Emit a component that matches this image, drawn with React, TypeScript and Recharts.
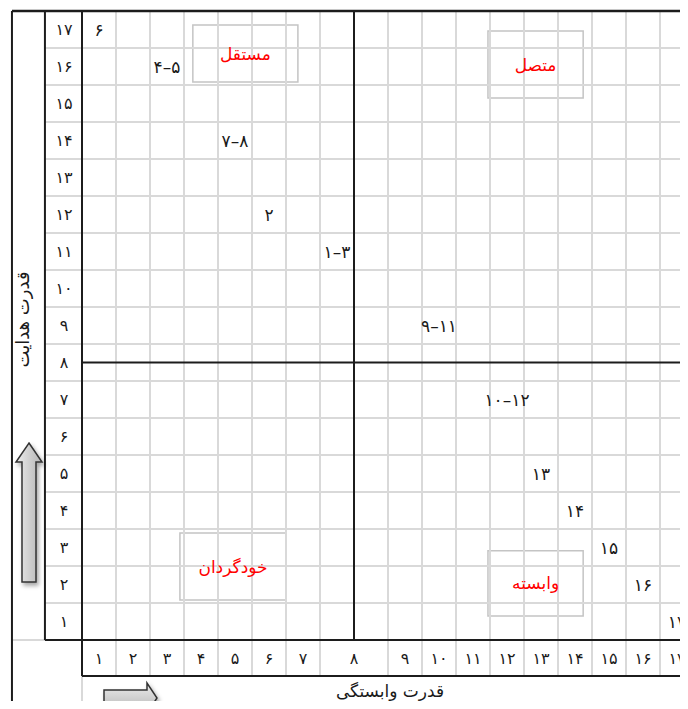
import React from 'react';
import { ScatterChart, Scatter, XAxis, YAxis, ReferenceLine, ReferenceArea } from 'recharts';

// گروه متغیرها و جایگاه آنها در ماتریس میک‌مک
const groups = ['6', '4-5', '7-8', '2', '1-3', '9-11', '10-12', '13', '14', '15', '16', '17'];
const dependence = [1, 3, 5, 6, 8, 10, 12, 13, 14, 15, 16, 17];
const driving = [17, 16, 14, 12, 11, 9, 7, 5, 4, 3, 2, 1];

// برچسب سطرها و ستون‌ها
const levels = [1, 2, 3, 4, 5, 6, 7, 8, 9, 10, 11, 12, 13, 14, 15, 16, 17];

const xTitle = 'قدرت وابستگی';
const yTitle = 'قدرت هدایت';
const quadrantNames = ['مستقل', 'متصل', 'خودگردان', 'وابسته'];

// layout of the quadrant boxes (axis units)
const quadrantBoxes = [
  { x1: 3.26, x2: 6.35, y1: 15.58, y2: 17.12 },
  { x1: 11.94, x2: 14.74, y1: 15.15, y2: 16.96 },
  { x1: 2.88, x2: 6.0, y1: 1.58, y2: 3.39 },
  { x1: 11.94, x2: 14.74, y1: 1.15, y2: 2.91 },
];

const FA_FONT = "'DejaVu Sans', sans-serif";
const GRID = '#d9d9d9';
const INK = '#1c1c1c';
const TEXT = '#1a1a1a';

const toFa = (s: string | number) =>
  String(s)
    .replace(/[0-9]/g, (d) => '۰۱۲۳۴۵۶۷۸۹'[Number(d)])
    .replace('-', '–');

// column 8 is twice as wide as the others (the quadrant divider runs through it)
const colCenter = (v: number) => (v < 8 ? v - 0.5 : v === 8 ? 8 : v + 0.5);
const pointX = (v: number) => (v === 8 ? 7.5 : colCenter(v));

const xTicks = levels.map(colCenter);
const colEdges = levels.map((v) => (v < 8 ? v : v + 1));
const rowEdges = levels.slice(0, -1).map((v) => v + 0.5);

const points = groups.map((g, i) => ({
  x: pointX(dependence[i]),
  y: driving[i],
  label: toFa(g),
}));

// frame positions in axis units
const X_OUTER = -2.06;
const X_ROWCOL = -1.09;
const X_FAR = 18.8;
const Y_TOP = 17.5;
const Y_PLOT = 0.5;
const Y_BAND = -0.47;
const Y_FAR = -1.6;

const LabelShape = (props: any) => (
  <text
    x={props.cx}
    y={props.cy}
    textAnchor="middle"
    dominantBaseline="central"
    fontSize={17}
    fontFamily={FA_FONT}
    fill={TEXT}
  >
    {props.payload.label}
  </text>
);

const XTick = (props: any) => {
  const idx = xTicks.indexOf(props.payload.value);
  return (
    <text
      x={props.x}
      y={props.y + 18}
      textAnchor="middle"
      dominantBaseline="central"
      fontSize={16}
      fontFamily={FA_FONT}
      fill={TEXT}
    >
      {toFa(levels[idx])}
    </text>
  );
};

const YTick = (props: any) => (
  <text
    x={props.x - 18}
    y={props.y}
    textAnchor="middle"
    dominantBaseline="central"
    fontSize={16}
    fontFamily={FA_FONT}
    fill={TEXT}
  >
    {toFa(props.payload.value)}
  </text>
);

const XTitle = (props: any) => {
  const vb = props.viewBox;
  return (
    <text
      x={vb.x + vb.width / 2 + 2}
      y={vb.y + vb.height + 15}
      textAnchor="middle"
      dominantBaseline="central"
      fontSize={17}
      fontFamily={FA_FONT}
      fill={TEXT}
    >
      {xTitle}
    </text>
  );
};

const YTitle = (props: any) => {
  const vb = props.viewBox;
  const x = vb.x - 24;
  const y = vb.y + vb.height / 2 - 6;
  return (
    <text
      x={x}
      y={y}
      transform={`rotate(-90, ${x}, ${y})`}
      textAnchor="middle"
      dominantBaseline="central"
      fontSize={18}
      fontFamily={FA_FONT}
      fill={TEXT}
    >
      {yTitle}
    </text>
  );
};

const seg = (x1: number, y1: number, x2: number, y2: number, color: string, w: number, key: string) => (
  <ReferenceLine
    key={key}
    segment={[
      { x: x1, y: y1 },
      { x: x2, y: y2 },
    ]}
    stroke={color}
    strokeWidth={w}
    ifOverflow="visible"
  />
);

export default function App() {
  return (
    <div style={{ position: 'relative', width: 680, height: 701, overflow: 'hidden', marginBottom: -8 }}>
      <ScatterChart width={691} height={701} margin={{ top: 3, right: 5, bottom: 33, left: 38 }}>
        <XAxis
          type="number"
          dataKey="x"
          domain={[0, 18]}
          ticks={xTicks}
          interval={0}
          allowDataOverflow
          axisLine={false}
          tickLine={false}
          tickSize={0}
          tickMargin={0}
          height={36}
          tick={XTick}
          label={XTitle}
        />
        <YAxis
          type="number"
          dataKey="y"
          domain={[0.5, 17.5]}
          ticks={levels}
          interval={0}
          allowDataOverflow
          axisLine={false}
          tickLine={false}
          tickSize={0}
          tickMargin={0}
          width={36}
          tick={YTick}
          label={YTitle}
        />

        {colEdges.map((b) => seg(b, Y_TOP, b, Y_BAND, GRID, 2, `c${b}`))}
        {rowEdges.map((r) => seg(X_ROWCOL, r, X_FAR, r, GRID, 2, `r${r}`))}

        {seg(X_OUTER, Y_PLOT, X_ROWCOL, Y_PLOT, GRID, 2, 'g1')}
        {seg(0, Y_BAND, 0, Y_FAR, GRID, 2, 'g2')}

        {seg(X_OUTER, Y_FAR, X_OUTER, Y_TOP, INK, 2, 'f1')}
        {seg(X_OUTER, Y_TOP, X_FAR, Y_TOP, INK, 2.5, 'f2')}
        {seg(X_ROWCOL, Y_TOP, X_ROWCOL, Y_PLOT, INK, 2, 'f3')}
        {seg(0, Y_TOP, 0, Y_BAND, INK, 2, 'f4')}
        {seg(X_ROWCOL, Y_PLOT, X_FAR, Y_PLOT, INK, 2, 'f5')}
        {seg(0, Y_BAND, X_FAR, Y_BAND, INK, 2, 'f6')}
        {seg(8, Y_TOP, 8, Y_PLOT, INK, 2, 'q1')}
        {seg(0, 8, X_FAR, 8, INK, 2, 'q2')}

        {quadrantBoxes.map((b, i) => (
          <ReferenceArea
            key={quadrantNames[i]}
            x1={b.x1}
            x2={b.x2}
            y1={b.y1}
            y2={b.y2}
            fill="none"
            stroke="#c4c4c4"
            strokeWidth={1.5}
            ifOverflow="visible"
            label={{
              value: quadrantNames[i],
              position: 'center',
              fill: '#ff0000',
              fontSize: 17,
              fontFamily: FA_FONT,
            }}
          />
        ))}

        <Scatter data={points} shape={LabelShape} isAnimationActive={false} />
      </ScatterChart>

      <svg
        width={680}
        height={701}
        style={{ position: 'absolute', left: 0, top: 0, pointerEvents: 'none' }}
      >
        <defs>
          <linearGradient id="upFill" x1="0" y1="0" x2="1" y2="0">
            <stop offset="0%" stopColor="#ececec" />
            <stop offset="100%" stopColor="#b4b4b4" />
          </linearGradient>
          <linearGradient id="rightFill" x1="0" y1="0" x2="0" y2="1">
            <stop offset="0%" stopColor="#ececec" />
            <stop offset="100%" stopColor="#b4b4b4" />
          </linearGradient>
          <filter id="shadow" x="-50%" y="-50%" width="200%" height="200%">
            <feDropShadow dx="2" dy="3" stdDeviation="2" floodColor="#000" floodOpacity="0.35" />
          </filter>
        </defs>
        <path
          d="M21,435 L34,454 L28,454 L28,574 L14,574 L14,454 L8,454 Z"
          fill="url(#upFill)"
          stroke="#333"
          strokeWidth={1.5}
          filter="url(#shadow)"
        />
        <path
          d="M96,682 L139,682 L139,675 L149,690 L139,705 L139,698 L96,698 Z"
          fill="url(#rightFill)"
          stroke="#333"
          strokeWidth={1.5}
          filter="url(#shadow)"
        />
      </svg>
    </div>
  );
}
